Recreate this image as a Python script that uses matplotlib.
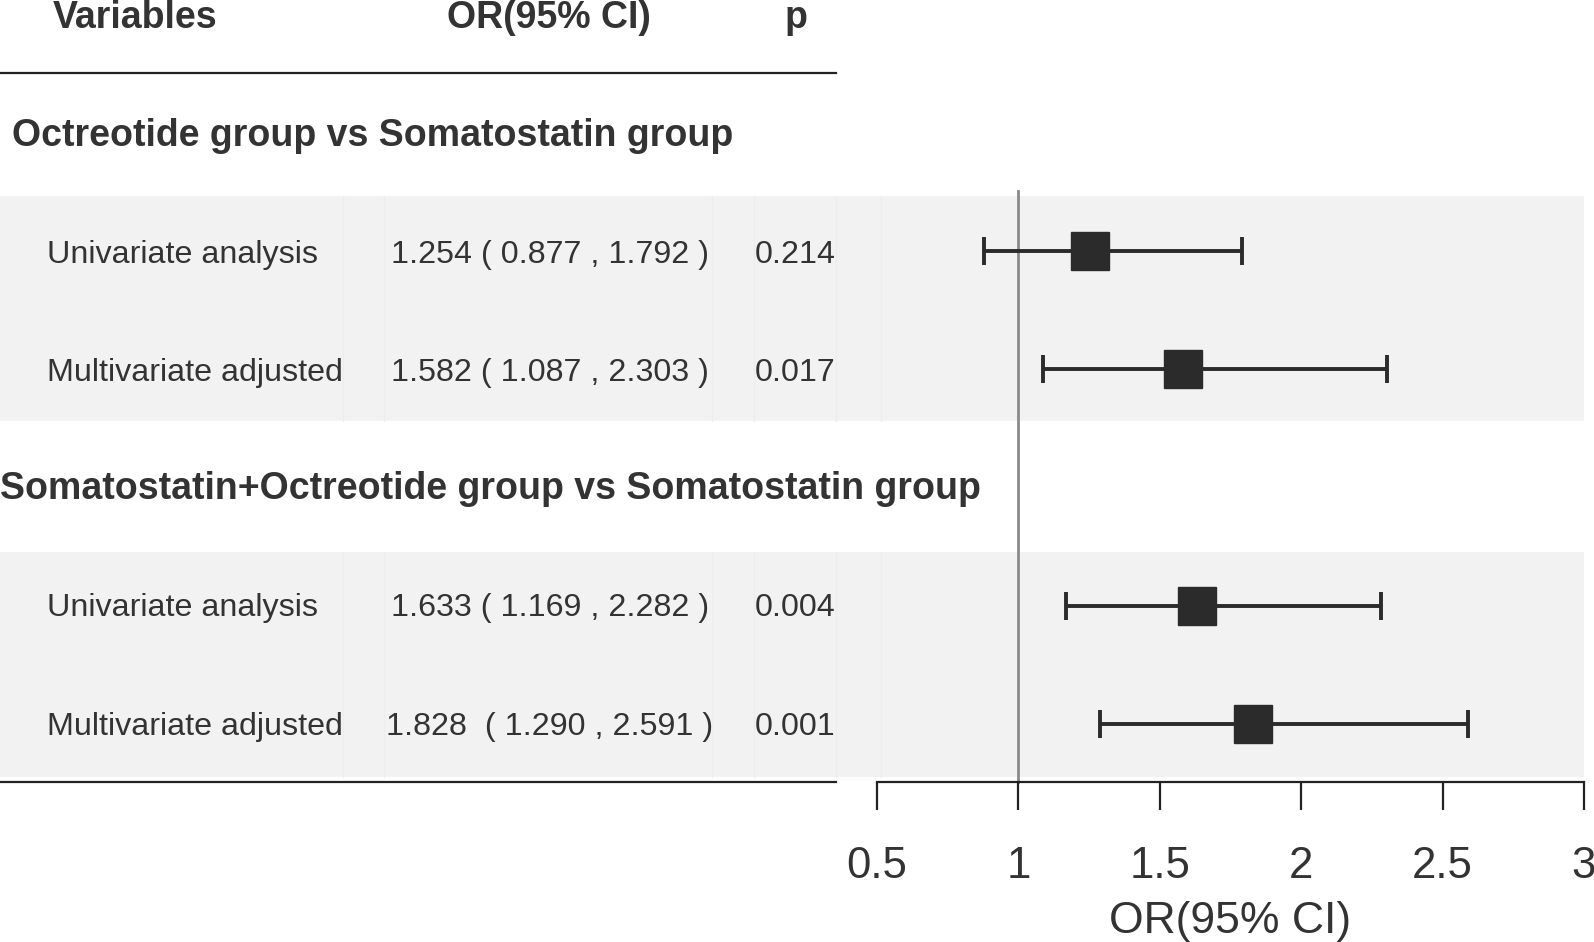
import matplotlib.pyplot as plt
from matplotlib.patches import Rectangle

plt.rcParams['font.family'] = ['Liberation Sans', 'DejaVu Sans']

# table contents
groups = ['Octreotide group vs Somatostatin group',
          'Somatostatin+Octreotide group vs Somatostatin group']
row_names = ['Univariate analysis', 'Multivariate adjusted',
             'Univariate analysis', 'Multivariate adjusted']
or_text = ['1.254 ( 0.877 , 1.792 )', '1.582 ( 1.087 , 2.303 )',
           '1.633 ( 1.169 , 2.282 )', '1.828  ( 1.290 , 2.591 )']
p_text = ['0.214', '0.017', '0.004', '0.001']

# forest values
or_est = [1.254, 1.582, 1.633, 1.828]
ci_low = [0.877, 1.087, 1.169, 1.290]
ci_high = [1.792, 2.303, 2.282, 2.591]
xticks = [0.5, 1, 1.5, 2, 2.5, 3]
xtick_labels = ['0.5', '1', '1.5', '2', '2.5', '3']

W, H = 1594, 942
fig = plt.figure(figsize=(W / 100, H / 100), dpi=100)

# background axes in pixel units for the table part
bg = fig.add_axes([0, 0, 1, 1])
bg.set_xlim(0, W)
bg.set_ylim(H, 0)
bg.axis('off')

txt = '#333333'
band_col = '#f2f2f2'
row_y = [251, 369, 606, 724]
base_y = [263, 381, 616, 735]
group_base = [146, 499]
bands = [(196, 421), (552, 777)]

for top, bot in bands:
    bg.add_patch(Rectangle((0, top), 1584, bot - top, color=band_col, zorder=0, lw=0))
    for sx in [343, 384, 712, 754, 836, 881]:
        bg.plot([sx, sx], [top, bot], color='#ededed', lw=1, zorder=0.5)

# header
bg.text(53, 28, 'Variables', fontsize=27, fontweight='bold', color=txt, va='baseline')
bg.text(447, 28, 'OR(95% CI)', fontsize=27, fontweight='bold', color=txt, va='baseline')
bg.text(796, 28, 'p', fontsize=27, fontweight='bold', color=txt, va='baseline', ha='center')
bg.plot([0, 836], [73, 73], color='#222222', lw=1.6)
bg.plot([0, 836], [782, 782], color='#222222', lw=1.6)

bg.text(12, group_base[0], groups[0], fontsize=27, fontweight='bold', color=txt, va='baseline')
bg.text(0, group_base[1], groups[1], fontsize=27, fontweight='bold', color=txt, va='baseline')

or_x = [391, 391, 391, 386]
for i in range(4):
    bg.text(47, base_y[i], row_names[i], fontsize=23.2, color=txt, va='baseline')
    bg.text(or_x[i], base_y[i], or_text[i], fontsize=23.2, color=txt, va='baseline')
    bg.text(755, base_y[i], p_text[i], fontsize=23.2, color=txt, va='baseline')

# forest axes
x0, x1 = 877, 1584
ax = fig.add_axes([x0 / W, 0, (x1 - x0) / W, 1])
ax.patch.set_alpha(0)
ax.set_xlim(0.5, 3)
ax.set_ylim(H, 0)

ax.plot([1, 1], [191, 782], color='#8a8a8a', lw=2, zorder=1)
ax.errorbar(or_est, row_y, xerr=[[o - l for o, l in zip(or_est, ci_low)],
                                 [h - o for o, h in zip(or_est, ci_high)]],
            fmt='s', color='#2b2b2b', ms=27, elinewidth=2.8, capsize=10,
            capthick=2.8, zorder=3)

for s in ['top', 'left', 'right']:
    ax.spines[s].set_visible(False)
ax.spines['bottom'].set_position(('data', 782))
ax.spines['bottom'].set_linewidth(1.6)
ax.spines['bottom'].set_color('#222222')
ax.set_yticks([])
ax.set_xticks(xticks)
ax.set_xticklabels(xtick_labels)
ax.tick_params(axis='x', length=20, width=1.6, color='#222222', pad=26,
               labelsize=31.5, labelcolor=txt)
ax.set_xlabel('OR(95% CI)', fontsize=32, color=txt, labelpad=10)

fig.savefig('out.png', dpi=100)
